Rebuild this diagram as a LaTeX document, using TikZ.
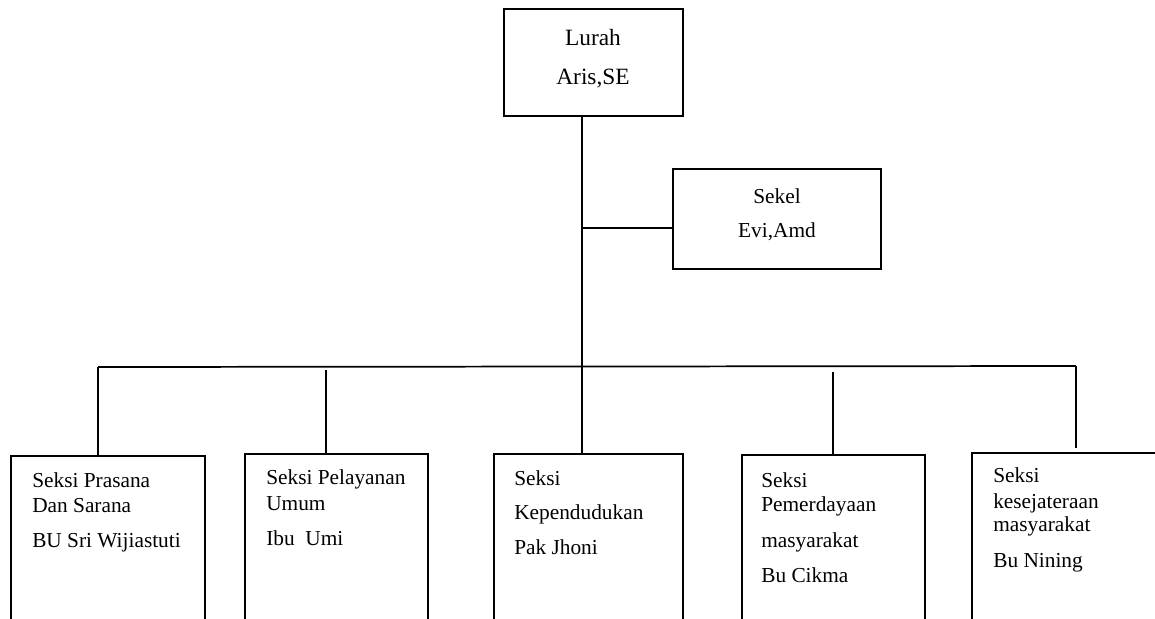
\documentclass[tikz,border=0pt]{standalone}
\usepackage{fontspec}
\setmainfont{Liberation Serif}
\usetikzlibrary{fit}
\begin{document}
\begin{tikzpicture}[x=0.75pt,y=-0.75pt,
  box/.style={draw, line width=1.4pt, inner sep=0pt},
  ln/.style={line width=1.3pt},
  txt/.style={anchor=base west, inner sep=0pt, font=\fontsize{16}{19}\selectfont},
  ctxt/.style={anchor=base, inner sep=0pt, font=\fontsize{16}{19}\selectfont},
  btxt/.style={anchor=base, inner sep=0pt, font=\fontsize{17.5}{21}\selectfont}]
\useasboundingbox (0,0) rectangle (1155,618);
\clip (0,0) rectangle (1155,618);
% top boxes
\node[box, fit={(504,9) (683,116)}] (lurah) {};
\node[btxt] (lurah1) at (593,45) {Lurah};
\node[btxt] (lurah2) at (593,84) {Aris,SE};
\node[box, fit={(673,169) (881,269)}] (sekel) {};
\node[ctxt] (sekel1) at (777,203) {Sekel};
\node[ctxt] (sekel2) at (777,237) {Evi,Amd};
% bottom boxes
\node[box, fit={(11,456) (205,660)}] (b1) {};
\node[txt] (b1a) at (32,487) {Seksi Prasana};
\node[txt] (b1b) at (32,512) {Dan Sarana};
\node[txt] (b1c) at (32,547) {BU Sri Wijiastuti};
\node[box, fit={(245,454) (428,660)}] (b2) {};
\node[txt] (b2a) at (266,484) {Seksi Pelayanan};
\node[txt] (b2b) at (266,510) {Umum};
\node[txt] (b2c) at (266,545) {Ibu\ \ Umi};
\node[box, fit={(494,454) (683,660)}] (b3) {};
\node[txt] (b3a) at (514,485) {Seksi};
\node[txt] (b3b) at (514,519) {Kependudukan};
\node[txt] (b3c) at (514,554) {Pak Jhoni};
\node[box, fit={(742,455) (925,660)}] (b4) {};
\node[txt] (b4a) at (761,487) {Seksi};
\node[txt] (b4b) at (761,511) {Pemerdayaan};
\node[txt] (b4c) at (761,547) {masyarakat};
\node[txt] (b4d) at (761,582) {Bu Cikma};
\node[box, fit={(972,453) (1170,660)}] (b5) {};
\node[txt] (b5a) at (993,482) {Seksi};
\node[txt] (b5b) at (993,508) {kesejateraan};
\node[txt] (b5c) at (993,531) {masyarakat};
\node[txt] (b5d) at (993,567) {Bu Nining};
% connectors
\coordinate (j1) at (582,228);
\coordinate (barL) at (98,367);
\coordinate (barM) at (582,367);
\coordinate (barR) at (1076,366);
\coordinate (d2) at (326,370);
\coordinate (d4) at (833,372);
\coordinate (e5) at (1076,448);
\draw[ln] (lurah.south -| j1) -- (barM);
\draw[ln] (j1) -- (j1 -| sekel.west);
\draw[ln] (barL) -- (barR);
\draw[ln] (barL) -- (barL |- b1.north);
\draw[ln] (d2) -- (d2 |- b2.north);
\draw[ln] (barM) -- (barM |- b3.north);
\draw[ln] (d4) -- (d4 |- b4.north);
\draw[ln] (barR) -- (e5);
\end{tikzpicture}
\end{document}
